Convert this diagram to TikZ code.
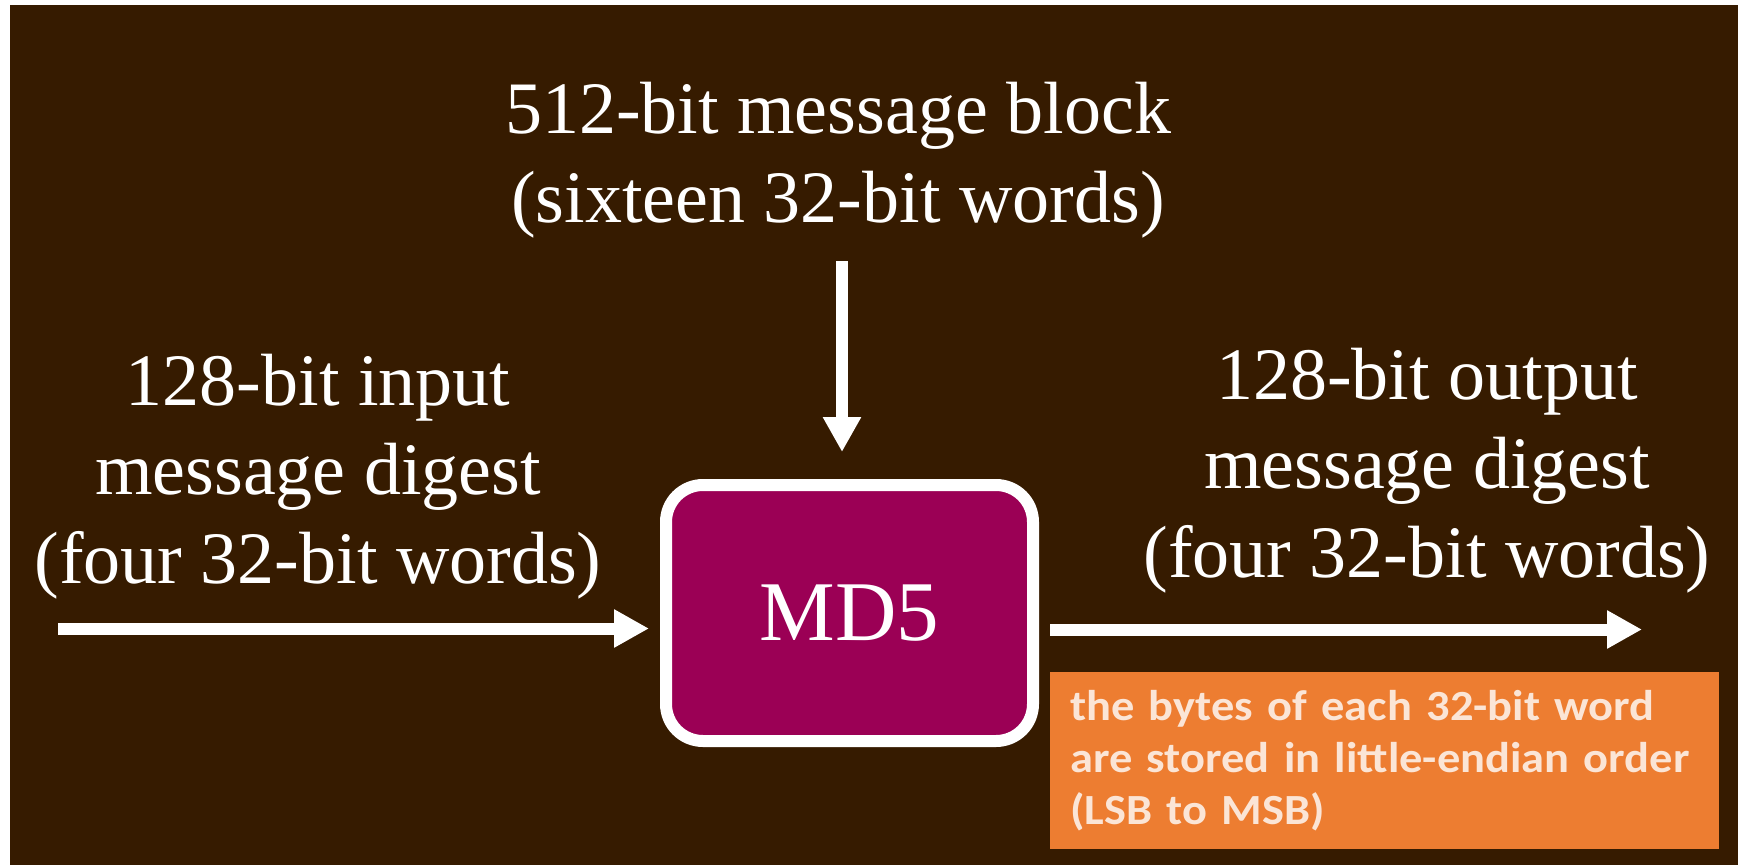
\documentclass[tikz,border=0pt]{standalone}
\usepackage{fontspec}
\setmainfont{Liberation Serif}
\newfontfamily\notefont[FakeStretch=1.08]{Carlito}
\usetikzlibrary{arrows.meta}

\definecolor{bgbrown}{RGB}{54,27,0}
\definecolor{md5fill}{RGB}{155,0,85}
\definecolor{noteorange}{RGB}{237,125,49}
\definecolor{notetext}{RGB}{251,229,214}

\tikzset{
  lbltext/.style={text=white, align=center, inner sep=0pt,
    font=\fontsize{74}{89}\selectfont},
  arr/.style={draw=white, line width=12pt,
    -{Triangle[length=35pt,width=36pt]}},
  md5box/.style={draw=white, line width=12pt, fill=md5fill,
    rounded corners=37pt, minimum width=367pt, minimum height=256pt,
    text=white, font=\fontsize{85}{100}\selectfont},
  notebox/.style={fill=noteorange, text=notetext, align=left,
    text width=629pt, inner xsep=20pt, inner ysep=0pt,
    text height=48pt, text depth=129pt,
    font=\notefont\bfseries\fontsize{43}{52}\selectfont}
}

\begin{document}
\begin{tikzpicture}[x=1pt,y=-1pt]
  \useasboundingbox (0,0) rectangle (1738,865);
  \fill[white] (0,0) rectangle (1738,865);
  \fill[bgbrown] (10,5) rectangle (1738,865);

  % central compression block
  \node[md5box] (md5) at (849.5,613) {MD5};

  % texts around the block (anchored at the baseline of their last line)
  \node[lbltext, anchor=base] (blk) at (838,222)
    {512-bit message block\\(sixteen 32-bit words)};
  \node[lbltext, anchor=base] (inlbl) at (318,583)
    {128-bit input\\message digest\\(four 32-bit words)};
  \node[lbltext, anchor=base] (outlbl) at (1427,577)
    {128-bit output\\message digest\\(four 32-bit words)};

  % arrows
  \coordinate (inL) at (58,628.5);
  \coordinate (outR) at (1642,629.5);
  \coordinate (blkOut) at (842,261);
  \draw[arr, shorten >=11pt] (inL) -- (inL -| md5.west);
  \draw[arr, shorten <=11pt] (md5.east |- outR) -- (outR);
  \draw[arr, shorten >=27pt] (blkOut) -- (blkOut |- md5.north);

  % byte-order note (anchored at the baseline of its first line)
  \node[notebox, anchor=base west] (note) at (1050,720)
    {the bytes of each 32-bit word\\are stored in little-endian order\\(LSB to MSB)};
\end{tikzpicture}
\end{document}
